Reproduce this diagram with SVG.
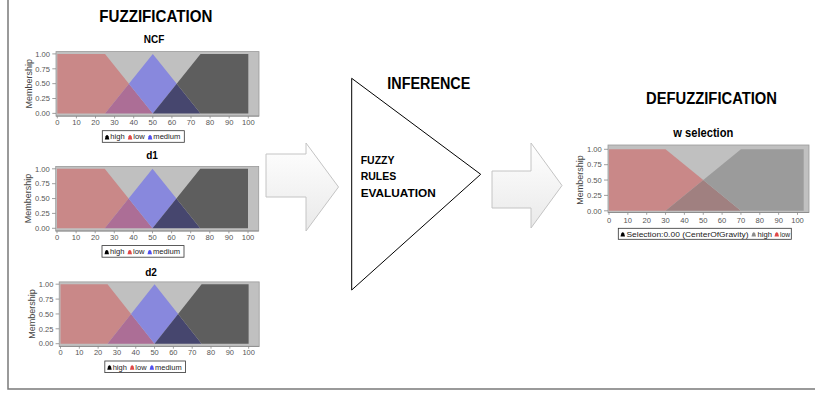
<svg xmlns="http://www.w3.org/2000/svg" width="815" height="394" viewBox="0 0 815 394">
<style>
.ttl{font-family:"Liberation Sans",Arial,sans-serif;font-weight:bold;fill:#000}
.ax{font-family:"Liberation Sans",Arial,sans-serif;font-size:7.6px;fill:#555}
.lg{font-family:"Liberation Sans",Arial,sans-serif;font-size:7.6px;fill:#222}
.mem{font-family:"Liberation Sans",Arial,sans-serif;font-size:9px;fill:#444}
.tk{stroke:#888;stroke-width:0.8;fill:none}
.arrow{fill:url(#ag);stroke:#c4c4c4;stroke-width:1}
</style>
<defs>
<linearGradient id="ag" x1="0" y1="0" x2="0" y2="1">
<stop offset="0" stop-color="#ffffff"/>
<stop offset="1" stop-color="#e9e9e9"/>
</linearGradient>
<path id="mk" d="M0,0 L0.8,-3.2 Q2.25,-5.6 3.7,-3.2 L4.5,0 Z"/>
<g id="yaxis">
<text class="ax" text-anchor="end" x="-7.3" y="2.7">0.00</text>
<text class="ax" text-anchor="end" x="-7.3" y="-12.2">0.25</text>
<text class="ax" text-anchor="end" x="-7.3" y="-27">0.50</text>
<text class="ax" text-anchor="end" x="-7.3" y="-41.9">0.75</text>
<text class="ax" text-anchor="end" x="-7.3" y="-56.8">1.00</text>
<path class="tk" d="M-5,0H-1.3M-5,-14.9H-1.3M-5,-29.75H-1.3M-5,-44.6H-1.3M-5,-59.5H-1.3"/>
</g>
<g id="mfplot">
<rect x="-1.3" y="-61.8" width="203" height="64.5" fill="#c0c0c0" stroke="#9a9a9a" stroke-width="0.8"/>
<polygon points="0,0 0,-59.5 47.75,-59.5 71.6,-29.75 47.75,0" fill="#c98888"/>
<polygon points="47.75,0 71.6,-29.75 95.5,0" fill="#ac6e96"/>
<polygon points="71.6,-29.75 95.5,-59.5 119.4,-29.75 95.5,0" fill="#8888dd"/>
<polygon points="95.5,0 119.4,-29.75 143.25,0" fill="#46466e"/>
<polygon points="119.4,-29.75 143.25,-59.5 191,-59.5 191,0 143.25,0" fill="#5e5e5e"/>
<use href="#yaxis"/>
<path class="tk" d="M-1.3,2.7H201.7M0,2.7V5M19.1,2.7V5M38.2,2.7V5M57.3,2.7V5M76.4,2.7V5M95.5,2.7V5M114.6,2.7V5M133.7,2.7V5M152.8,2.7V5M171.9,2.7V5M191,2.7V5"/>
<g class="ax" text-anchor="middle">
<text x="0" y="11.3">0</text><text x="19.1" y="11.3">10</text><text x="38.2" y="11.3">20</text><text x="57.3" y="11.3">30</text><text x="76.4" y="11.3">40</text><text x="95.5" y="11.3">50</text><text x="114.6" y="11.3">60</text><text x="133.7" y="11.3">70</text><text x="152.8" y="11.3">80</text><text x="171.9" y="11.3">90</text><text x="191" y="11.3">100</text>
</g>
<text class="mem" text-anchor="middle" transform="translate(-25.8,-29.75) rotate(-90)">Membership</text>
<rect x="45" y="17.3" width="82" height="11.6" fill="#fff" stroke="#333" stroke-width="0.8"/>
<use href="#mk" x="47.5" y="26" fill="#000"/>
<text class="lg" x="53" y="26">high</text>
<use href="#mk" x="70.5" y="26" fill="#e04848"/>
<text class="lg" x="76" y="26">low</text>
<use href="#mk" x="90.5" y="26" fill="#5050f0"/>
<text class="lg" x="96" y="26">medium</text>
</g>
</defs>

<path d="M8,0V389H815" fill="none" stroke="#7a7a7a" stroke-width="1.5"/>

<g id="fuzzification">
<text class="ttl" x="99.3" y="21.7" font-size="16.5" textLength="113" lengthAdjust="spacingAndGlyphs">FUZZIFICATION</text>
</g>

<g id="chart-ncf">
<text class="ttl" x="154" y="43.3" font-size="10" text-anchor="middle">NCF</text>
<use href="#mfplot" transform="translate(57.3,113.4)"/>
</g>

<g id="chart-d1">
<text class="ttl" x="152" y="159" font-size="10" text-anchor="middle">d1</text>
<use href="#mfplot" transform="translate(57,228.3)"/>
</g>

<g id="chart-d2">
<text class="ttl" x="151" y="276" font-size="10" text-anchor="middle">d2</text>
<use href="#mfplot" transform="translate(60.5,343.7) scale(0.985,1)"/>
</g>

<g id="inference">
<polygon points="351.7,78.3 351.7,290 480.7,174.3" fill="#fff" stroke="#000" stroke-width="1"/>
<text class="ttl" x="387.3" y="89.3" font-size="16" textLength="83" lengthAdjust="spacingAndGlyphs">INFERENCE</text>
<text class="ttl" x="360.7" y="163.6" font-size="10.5">FUZZY</text>
<text class="ttl" x="360.7" y="180" font-size="10.5">RULES</text>
<text class="ttl" x="360.7" y="196.7" font-size="10.5" textLength="75" lengthAdjust="spacingAndGlyphs">EVALUATION</text>
</g>

<g id="defuzzification">
<text class="ttl" x="646" y="104" font-size="16" textLength="131" lengthAdjust="spacingAndGlyphs">DEFUZZIFICATION</text>
<text class="ttl" x="703.3" y="136.7" font-size="12" text-anchor="middle" textLength="60" lengthAdjust="spacingAndGlyphs">w selection</text>
<g transform="translate(609,210.8)">
<rect x="-1" y="-65.8" width="201" height="67.5" fill="#c0c0c0" stroke="#9a9a9a" stroke-width="0.8"/>
<polygon points="0,0 0,-61.5 56.55,-61.5 94.25,-30.75 56.55,0" fill="#c98888"/>
<polygon points="56.55,0 94.25,-30.75 131.95,0" fill="#a08080"/>
<polygon points="94.25,-30.75 131.95,-61.5 194.7,-61.5 194.7,0 131.95,0" fill="#9b9b9b"/>
<g class="ax" text-anchor="end">
<text x="-7.3" y="2.7">0.00</text>
<text x="-7.3" y="-12.7">0.25</text>
<text x="-7.3" y="-28">0.50</text>
<text x="-7.3" y="-43.4">0.75</text>
<text x="-7.3" y="-58.8">1.00</text>
</g>
<path class="tk" d="M-5,0H-1M-5,-15.4H-1M-5,-30.75H-1M-5,-46.1H-1M-5,-61.5H-1"/>
<path class="tk" d="M-1,1.7H200M0,1.7V4M18.85,1.7V4M37.7,1.7V4M56.55,1.7V4M75.4,1.7V4M94.25,1.7V4M113.1,1.7V4M131.95,1.7V4M150.8,1.7V4M169.65,1.7V4M188.5,1.7V4"/>
<g class="ax" text-anchor="middle">
<text x="0" y="12">0</text><text x="18.85" y="12">10</text><text x="37.7" y="12">20</text><text x="56.55" y="12">30</text><text x="75.4" y="12">40</text><text x="94.25" y="12">50</text><text x="113.1" y="12">60</text><text x="131.95" y="12">70</text><text x="150.8" y="12">80</text><text x="169.65" y="12">90</text><text x="188.5" y="12">100</text>
</g>
<text class="mem" text-anchor="middle" transform="translate(-26,-30.75) rotate(-90)">Membership</text>
<rect x="9.3" y="17.5" width="173" height="11" fill="#fff" stroke="#333" stroke-width="0.8"/>
<use href="#mk" x="11.5" y="25.8" fill="#000"/>
<text class="lg" x="17.5" y="25.8" textLength="122" lengthAdjust="spacingAndGlyphs">Selection:0.00 (CenterOfGravity)</text>
<use href="#mk" x="142.5" y="25.8" fill="#8c8c8c"/>
<text class="lg" x="148.5" y="25.8">high</text>
<use href="#mk" x="165.5" y="25.8" fill="#e04848"/>
<text class="lg" x="171" y="25.8" textLength="10" lengthAdjust="spacingAndGlyphs">low</text>
</g>
</g>

<g id="connectors">
<polygon class="arrow" points="266,154 306,154 306,143 338.5,187 306,231 306,197 266,197"/>
<polygon class="arrow" points="492,171 531,171 531,143 562,185.5 531,228 531,208 492,208"/>
</g>
</svg>
